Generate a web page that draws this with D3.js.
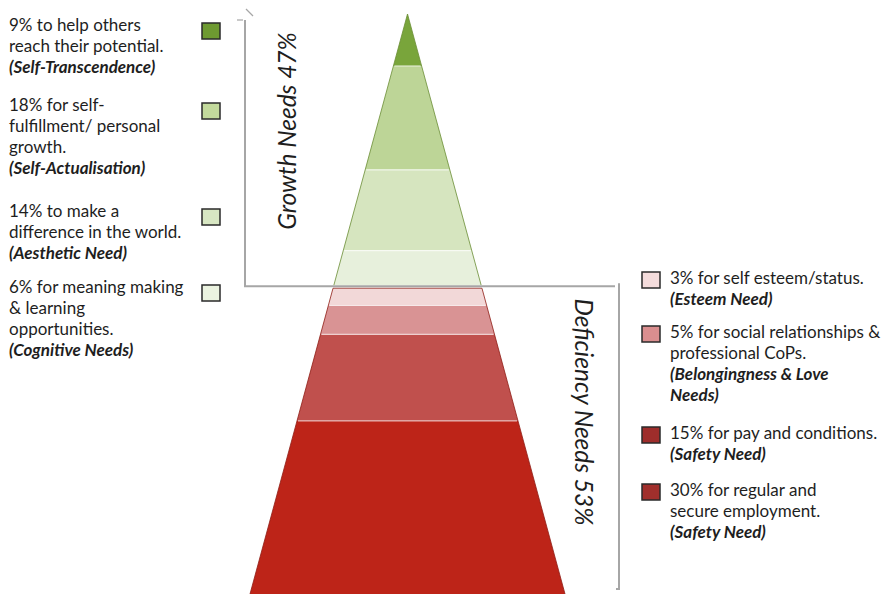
<!DOCTYPE html>
<html>
<head>
<meta charset="utf-8">
<script src="https://cdn.jsdelivr.net/npm/d3@7"></script>
<style>
  html, body { margin: 0; padding: 0; background: #fff; }
  svg { display: block; }
  text { font-family: Lato, "Open Sans", sans-serif; fill: #1e1e1e; }
</style>
</head>
<body>
<svg id="chart" width="888" height="594"></svg>
<script>
// ---- data -------------------------------------------------------------
const needs = ["Self-Transcendence", "Self-Actualisation", "Aesthetic Need", "Cognitive Needs",
               "Esteem Need", "Belongingness & Love Needs", "Safety Need", "Safety Need"];
const shares = [9, 18, 14, 6, 3, 5, 15, 30];
const groupOf = ["Growth", "Growth", "Growth", "Growth",
                 "Deficiency", "Deficiency", "Deficiency", "Deficiency"];
const groupNames = ["Growth", "Deficiency"];
const descriptions = [
  ["to help others", "reach their potential."],
  ["for self-", "fulfillment/ personal", "growth."],
  ["to make a", "difference in the world."],
  ["for meaning making", "& learning", "opportunities."],
  ["for self esteem/status."],
  ["for social relationships &", "professional CoPs."],
  ["for pay and conditions."],
  ["for regular and", "secure employment."]
];
const needLines = [
  ["(Self-Transcendence)"],
  ["(Self-Actualisation)"],
  ["(Aesthetic Need)"],
  ["(Cognitive Needs)"],
  ["(Esteem Need)"],
  ["(Belongingness & Love", "Needs)"],
  ["(Safety Need)"],
  ["(Safety Need)"]
];

// ---- styles -----------------------------------------------------------
const bandColors = ["#79a53b", "#bdd597", "#d6e5bf", "#e7f0dc",
                    "#f2d8d8", "#d99394", "#c0504d", "#bd2418"];
const swatchColors = ["#6e9a31", "#c3da9c", "#d8e7c3", "#ebf3e0",
                      "#f4dcdc", "#da8e8f", "#9e2d2b", "#a12f2c"];
const edgeColors = { Growth: "#6a8d35", Deficiency: "#8e1d15" };

// ---- layout -----------------------------------------------------------
const W = 888, H = 594;
const apexY = 14, baseY = 594, cx = 407.5, baseHalf = 157.5;
const groupGap = 3;
const labelBaselines = [31, 111, 217, 293, 284, 338, 439, 496];
const lineH = 21;
const labelSize = 17;

const svg = d3.select("#chart");

// vertical scale: share of total (cumulative %) -> pixels
const total = d3.sum(shares);
const yScale = d3.scaleLinear().domain([0, total]).range([apexY, baseY - groupGap]);
// half-width of the pyramid at a given y
const halfW = d3.scaleLinear().domain([apexY, baseY]).range([0, baseHalf]);

// stack bands top to bottom
let cum = 0;
const bands = shares.map((v, i) => {
  const gap = groupOf[i] === "Deficiency" ? groupGap : 0;
  const y0 = yScale(cum) + gap;
  cum += v;
  const y1 = yScale(cum) + gap;
  return { i, v, y0, y1, group: groupOf[i] };
});

const poly = (y0, y1) => [
  [cx - halfW(y0), y0], [cx + halfW(y0), y0],
  [cx + halfW(y1), y1], [cx - halfW(y1), y1]
];

const g = svg.append("g");
g.selectAll("path.band")
  .data(bands)
  .join("path")
  .attr("class", "band")
  .attr("d", d => d3.line()(poly(d.y0, d.y1)) + "Z")
  .attr("fill", d => bandColors[d.i]);

// light separators between stacked bands
g.selectAll("line.sep")
  .data(bands.filter((d, k) => k > 0 && bands[k - 1].group === d.group))
  .join("line")
  .attr("x1", d => cx - halfW(d.y0) + 1)
  .attr("x2", d => cx + halfW(d.y0) - 1)
  .attr("y1", d => d.y0).attr("y2", d => d.y0)
  .attr("stroke", "#ffffff").attr("stroke-opacity", 0.65).attr("stroke-width", 1.2);

// outline edges of each group
groupNames.forEach(gn => {
  const bs = bands.filter(b => b.group === gn);
  const y0 = bs[0].y0, y1 = bs[bs.length - 1].y1;
  g.append("path")
    .attr("d", d3.line()([[cx - halfW(y1), y1], [cx - halfW(y0), y0], [cx + halfW(y0), y0], [cx + halfW(y1), y1]]))
    .attr("fill", "none")
    .attr("stroke", edgeColors[gn])
    .attr("stroke-width", 1)
    .attr("stroke-opacity", 0.8);
});

// ---- brackets ---------------------------------------------------------
const growthEnd = bands[3].y1;
const br = svg.append("g").attr("fill", "none").attr("stroke", "#a6a6a6").attr("stroke-width", 2);
br.append("path").attr("d", d3.line()([[245, 20], [245, growthEnd + 1], [615, growthEnd + 1]]));
br.append("path").attr("d", d3.line()([[237, 20], [243, 20]])).attr("stroke-width", 1.2);
br.append("path").attr("d", d3.line()([[246, 9], [253, 16]])).attr("stroke-width", 1.2);
br.append("path").attr("d", d3.line()([[619, growthEnd - 2], [619, 589], [616, 589]]));

// ---- group titles -----------------------------------------------------
const groupTotal = gn => d3.sum(shares.filter((v, i) => groupOf[i] === gn));
svg.append("text")
  .attr("transform", "translate(296,131) rotate(-90)")
  .attr("text-anchor", "middle")
  .attr("font-size", 24.5).attr("font-style", "italic")
  .text(`Growth Needs ${groupTotal("Growth")}%`);
svg.append("text")
  .attr("transform", "translate(575,412) rotate(90)")
  .attr("text-anchor", "middle")
  .attr("font-size", 24.5).attr("font-style", "italic")
  .text(`Deficiency Needs ${groupTotal("Deficiency")}%`);

// ---- labels with swatches --------------------------------------------
bands.forEach(d => {
  const left = d.group === "Growth";
  const tx = left ? 9 : 670;
  const sx = left ? 202 : 642;
  const base = labelBaselines[d.i];
  const lines = descriptions[d.i].map((s, k) => k === 0 ? `${d.v}% ${s}` : s);
  const t = svg.append("text").attr("x", tx).attr("y", base).attr("font-size", labelSize);
  lines.forEach((s, k) => {
    t.append("tspan").attr("x", tx).attr("y", base + k * lineH).text(s);
  });
  needLines[d.i].forEach((s, k) => {
    t.append("tspan").attr("x", tx).attr("y", base + (lines.length + k) * lineH)
      .attr("font-weight", "bold").attr("font-style", "italic").text(s);
  });
  const sy = left ? base - 8 : base - 12;
  svg.append("rect")
    .attr("x", sx).attr("y", sy).attr("width", 18).attr("height", 16)
    .attr("fill", swatchColors[d.i])
    .attr("stroke", "#2a2a2a").attr("stroke-width", 1.5);
});
</script>
</body>
</html>
